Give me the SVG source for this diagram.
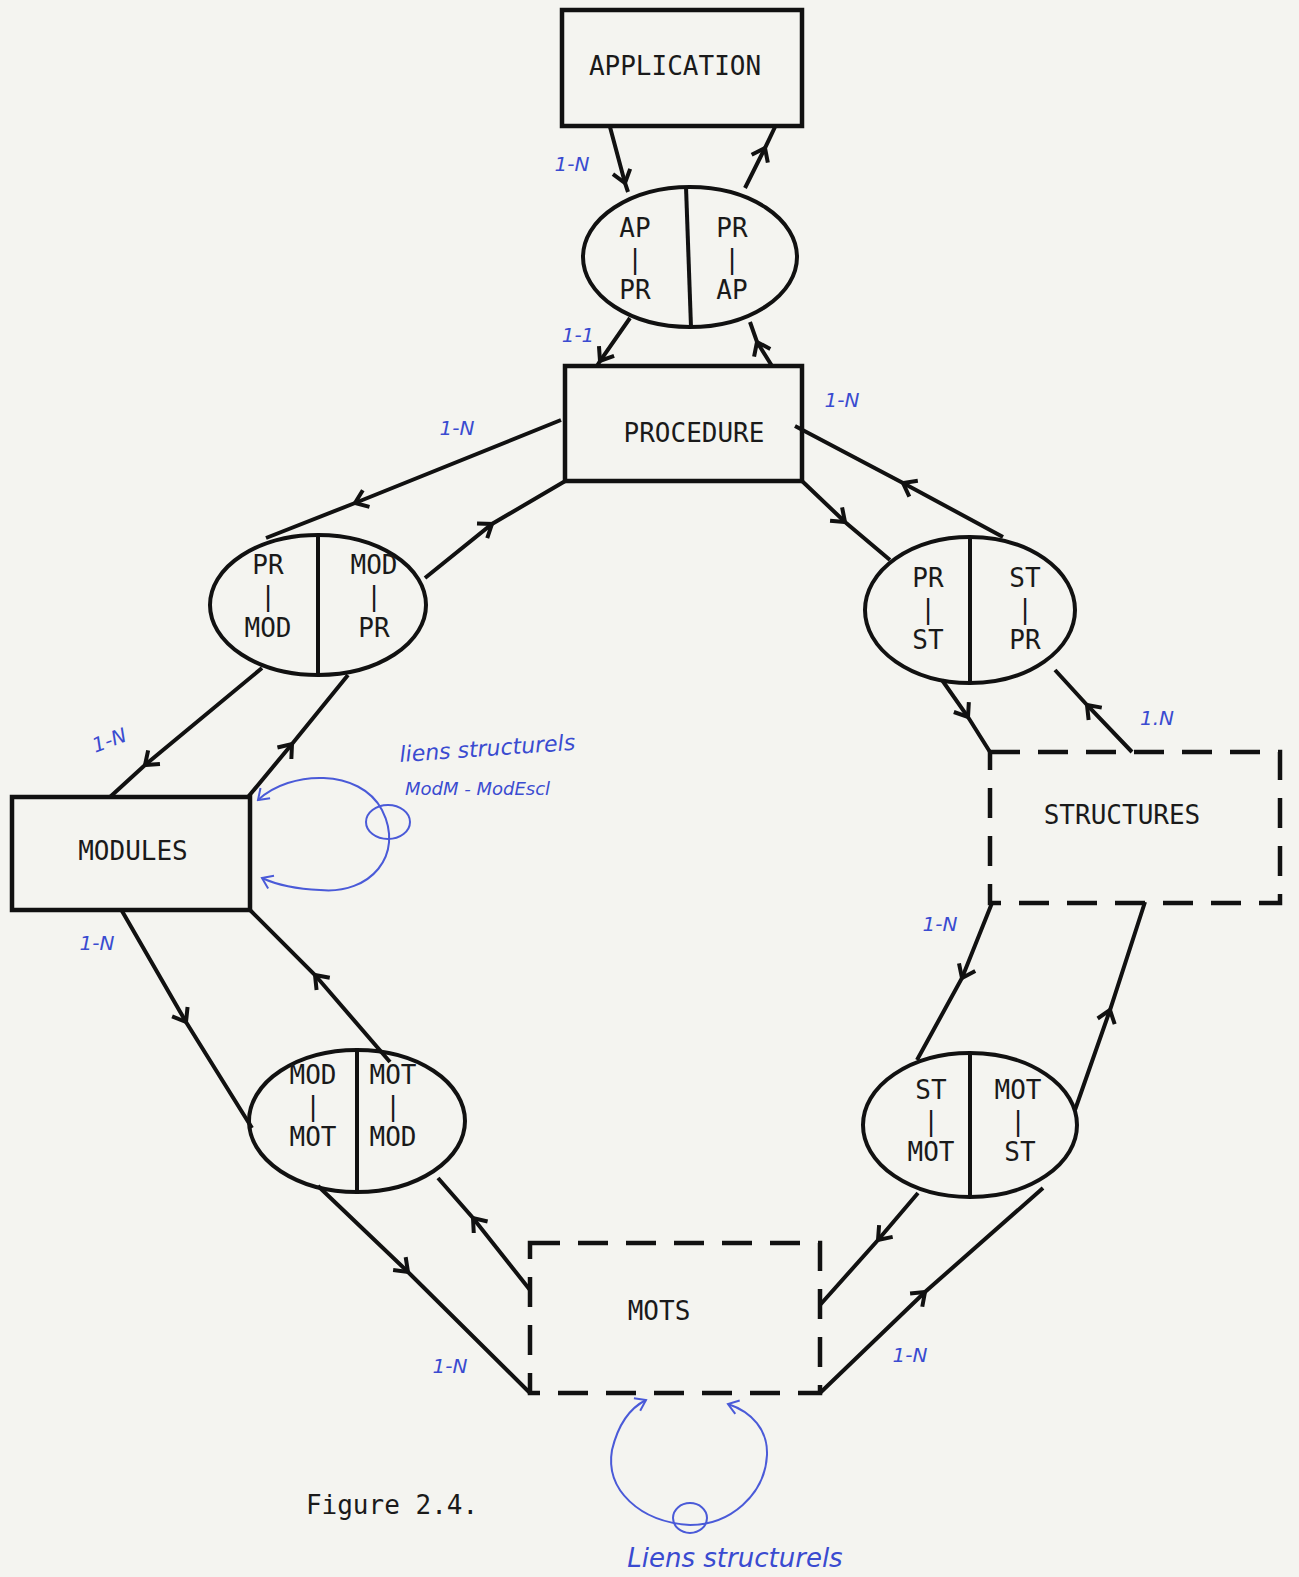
<svg xmlns="http://www.w3.org/2000/svg" width="1299" height="1577" viewBox="0 0 1299 1577">
<style>
.bg{fill:#f4f4f0}
.box{fill:none;stroke:#111;stroke-width:4.5}
.dash{fill:none;stroke:#111;stroke-width:4.5;stroke-dasharray:30 18}
.ell{fill:none;stroke:#111;stroke-width:4}
.div{stroke:#111;stroke-width:4}
.t{font-family:"DejaVu Sans Mono","Liberation Mono",monospace;font-size:26px;fill:#1a1a1a;text-anchor:middle}
.c{fill:none;stroke:#111;stroke-width:4;marker-mid:url(#chev)}
.bl{font-family:"DejaVu Sans","Liberation Sans",sans-serif;font-style:italic;fill:#3a4bd0;font-size:20px;text-anchor:middle}
.hw{font-family:"DejaVu Sans","Liberation Sans",sans-serif;font-style:italic;fill:#3a4bd0}
.loop{fill:none;stroke:#4a5ad8;stroke-width:2}
</style>
<defs>
<marker id="chev" viewBox="-15 -12 17 24" refX="0" refY="0" markerWidth="17" markerHeight="24" markerUnits="userSpaceOnUse" orient="auto">
<path d="M-12,-9 L0,0 L-12,9" fill="none" stroke="#111" stroke-width="4"/>
</marker>
<marker id="bchev" viewBox="-12 -9 14 18" refX="0" refY="0" markerWidth="14" markerHeight="18" markerUnits="userSpaceOnUse" orient="auto">
<path d="M-10,-7 L0,0 L-10,7" fill="none" stroke="#4a5ad8" stroke-width="2"/>
</marker>
</defs>
<rect class="bg" x="0" y="0" width="1299" height="1577"/>

<g id="connectors">
<polyline class="c" points="610,127 625,183 628,192"/>
<polyline class="c" points="745,188 765,148 775,127"/>
<polyline class="c" points="630,318 600,361 597,366"/>
<polyline class="c" points="772,366 757,342 750,322"/>
<polyline class="c" points="561,420 355,503 266,538"/>
<polyline class="c" points="425,578 492,524 567,480"/>
<polyline class="c" points="262,668 145,765 110,797"/>
<polyline class="c" points="248,797 292,744 348,675"/>
<polyline class="c" points="122,911 186,1022 252,1128"/>
<polyline class="c" points="390,1062 315,975 250,910"/>
<polyline class="c" points="318,1186 408,1272 530,1393"/>
<polyline class="c" points="530,1290 473,1218 438,1178"/>
<polyline class="c" points="918,1193 878,1240 820,1305"/>
<polyline class="c" points="820,1393 925,1292 1043,1188"/>
<polyline class="c" points="992,903 962,978 917,1060"/>
<polyline class="c" points="1075,1110 1110,1010 1145,902"/>
<polyline class="c" points="802,481 845,522 890,560"/>
<polyline class="c" points="1003,537 903,483 795,426"/>
<polyline class="c" points="942,680 968,717 990,752"/>
<polyline class="c" points="1132,752 1087,705 1055,670"/>
</g>

<g id="labels">
<text class="bl" x="572" y="171">1-N</text>
<text class="bl" x="578" y="342">1-1</text>
<text class="bl" x="457" y="435">1-N</text>
<text class="bl" x="842" y="407">1-N</text>
<text class="bl" x="110" y="747" transform="rotate(-20 110 742)">1-N</text>
<text class="bl" x="1157" y="725">1.N</text>
<text class="bl" x="97" y="950">1-N</text>
<text class="bl" x="940" y="931">1-N</text>
<text class="bl" x="450" y="1373">1-N</text>
<text class="bl" x="910" y="1362">1-N</text>
</g>

<g id="application">
<rect class="box" x="562" y="10" width="240" height="116"/>
<text class="t" x="675" y="75">APPLICATION</text>
</g>

<g id="ap-pr">
<ellipse class="ell" cx="690" cy="257" rx="107" ry="70"/>
<line class="div" x1="686" y1="187" x2="691" y2="327"/>
<text class="t" x="635" y="237">AP</text>
<text class="t" x="635" y="268">|</text>
<text class="t" x="635" y="299">PR</text>
<text class="t" x="732" y="237">PR</text>
<text class="t" x="732" y="268">|</text>
<text class="t" x="732" y="299">AP</text>
</g>

<g id="procedure">
<rect class="box" x="565" y="366" width="237" height="115"/>
<text class="t" x="694" y="442">PROCEDURE</text>
</g>

<g id="pr-mod">
<ellipse class="ell" cx="318" cy="605" rx="108" ry="70"/>
<line class="div" x1="318" y1="535" x2="318" y2="675"/>
<text class="t" x="268" y="574">PR</text>
<text class="t" x="268" y="605">|</text>
<text class="t" x="268" y="637">MOD</text>
<text class="t" x="374" y="574">MOD</text>
<text class="t" x="374" y="605">|</text>
<text class="t" x="374" y="637">PR</text>
</g>

<g id="pr-st">
<ellipse class="ell" cx="970" cy="610" rx="105" ry="73"/>
<line class="div" x1="970" y1="537" x2="970" y2="683"/>
<text class="t" x="928" y="587">PR</text>
<text class="t" x="928" y="618">|</text>
<text class="t" x="928" y="649">ST</text>
<text class="t" x="1025" y="587">ST</text>
<text class="t" x="1025" y="618">|</text>
<text class="t" x="1025" y="649">PR</text>
</g>

<g id="modules">
<rect class="box" x="12" y="797" width="238" height="113"/>
<text class="t" x="133" y="860">MODULES</text>
</g>

<g id="structures">
<rect class="dash" x="990" y="752" width="290" height="151"/>
<text class="t" x="1122" y="824">STRUCTURES</text>
</g>

<g id="mod-mot">
<ellipse class="ell" cx="357" cy="1121" rx="108" ry="71"/>
<line class="div" x1="357" y1="1050" x2="357" y2="1192"/>
<text class="t" x="313" y="1084">MOD</text>
<text class="t" x="313" y="1115">|</text>
<text class="t" x="313" y="1146">MOT</text>
<text class="t" x="393" y="1084">MOT</text>
<text class="t" x="393" y="1115">|</text>
<text class="t" x="393" y="1146">MOD</text>
</g>

<g id="st-mot">
<ellipse class="ell" cx="970" cy="1125" rx="107" ry="72"/>
<line class="div" x1="970" y1="1053" x2="970" y2="1197"/>
<text class="t" x="931" y="1099">ST</text>
<text class="t" x="931" y="1130">|</text>
<text class="t" x="931" y="1161">MOT</text>
<text class="t" x="1018" y="1099">MOT</text>
<text class="t" x="1018" y="1130">|</text>
<text class="t" x="1020" y="1161">ST</text>
</g>

<g id="mots">
<rect class="dash" x="530" y="1243" width="290" height="150"/>
<text class="t" x="659" y="1320">MOTS</text>
</g>

<g id="modules-loop">
<path class="loop" d="M320,890 C370,895 405,855 382,810 C360,768 290,770 258,800" marker-end="url(#bchev)"/>
<path class="loop" d="M320,890 C295,889 275,884 262,878" marker-end="url(#bchev)"/>
<ellipse class="loop" cx="388" cy="822" rx="22" ry="17"/>
<text class="hw" x="400" y="762" font-size="22" transform="rotate(-4 400 762)">liens structurels</text>
<text class="hw" x="405" y="795" font-size="18">ModM - ModEscl</text>
</g>

<g id="mots-loop">
<path class="loop" d="M690,1525 C640,1522 605,1490 612,1450 C618,1425 630,1408 646,1400" marker-end="url(#bchev)"/>
<path class="loop" d="M690,1525 C730,1525 765,1495 767,1455 C768,1430 752,1412 728,1404" marker-end="url(#bchev)"/>
<ellipse class="loop" cx="690" cy="1518" rx="17" ry="15"/>
<text class="hw" x="735" y="1567" font-size="26" text-anchor="middle">Liens structurels</text>
</g>

<text class="t" x="392" y="1514" font-size="24">Figure 2.4.</text>
</svg>
